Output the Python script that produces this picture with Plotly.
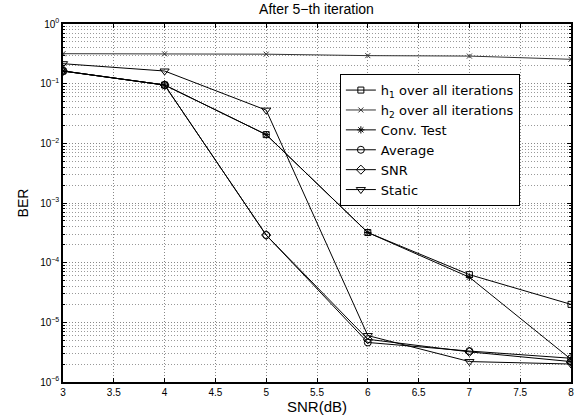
import plotly.graph_objects as go

snr = [3, 4, 5, 6, 7, 8]
h1 = [0.163, 0.095, 0.014, 3.2e-4, 6.3e-5, 2.0e-5]
h2 = [0.318, 0.316, 0.312, 0.295, 0.29, 0.256]
conv = [0.163, 0.095, 0.014, 3.2e-4, 5.7e-5, 2.4e-6]
average = [0.163, 0.095, 2.9e-4, 4.6e-6, 3.3e-6, 2.5e-6]
snr_sel = [0.163, 0.095, 2.9e-4, 5.2e-6, 3.2e-6, 2.2e-6]
static = [0.216, 0.163, 0.036, 6.0e-6, 2.2e-6, 2.0e-6]

series = [
    ("h<sub>1</sub> over all iterations", h1, "square-open", 6, "black"),
    ("h<sub>2</sub> over all iterations", h2, "x-thin-open", 5, "#333333"),
    ("Conv. Test", conv, "asterisk-open", 6, "black"),
    ("Average", average, "circle-open", 7, "black"),
    ("SNR", snr_sel, "diamond-open", 7, "black"),
    ("Static", static, "triangle-down-open", 8, "black"),
]

fig = go.Figure()
for name, ys, sym, sz, col in series:
    fig.add_trace(go.Scatter(
        x=snr, y=ys, name=name, mode="lines+markers",
        line=dict(color=col, width=1),
        marker=dict(symbol=sym, size=sz, color=col, line=dict(color=col, width=1)),
    ))

ytickvals = [1e0, 1e-1, 1e-2, 1e-3, 1e-4, 1e-5, 1e-6]
yticktext = ["10<sup>0</sup>", "10<sup>−1</sup>", "10<sup>−2</sup>", "10<sup>−3</sup>",
             "10<sup>−4</sup>", "10<sup>−5</sup>", "10<sup>−6</sup>"]
xtickvals = [3, 3.5, 4, 4.5, 5, 5.5, 6, 6.5, 7, 7.5, 8]
xticktext = ["3", "3.5", "4", "4.5", "5", "5.5", "6", "6.5", "7", "7.5", "8"]

minor_vals = [m * 10.0 ** e for e in range(-6, 0) for m in range(2, 10)]

grid_style = dict(showgrid=True, gridcolor="#888888", griddash="1px,2px", gridwidth=1)

fig.update_layout(
    width=582, height=418,
    margin=dict(l=63, r=8, t=24, b=36),
    paper_bgcolor="white", plot_bgcolor="white",
    font=dict(family="Liberation Sans, Arial, sans-serif", color="black", size=10),
    title=dict(text="After 5−th iteration", xref="paper", x=0.499, xanchor="center",
               y=0.978, yanchor="middle", font=dict(size=14, color="black")),
    showlegend=True,
    legend=dict(x=0.545, y=0.86, xanchor="left", yanchor="top",
                bgcolor="white", bordercolor="black", borderwidth=1,
                font=dict(family="DejaVu Sans, sans-serif", size=13, color="black"),
                tracegroupgap=0, itemwidth=30),
    xaxis=dict(
        range=[3, 8], tickvals=xtickvals, ticktext=xticktext,
        showline=True, linecolor="black", linewidth=1.5, mirror="ticks",
        ticks="inside", ticklen=4, tickcolor="black",
        zeroline=False, tickfont=dict(size=10),
        title=dict(text="SNR(dB)", font=dict(size=15), standoff=2),
        **grid_style,
    ),
    yaxis=dict(
        type="log", range=[-6, 0], tickvals=ytickvals, ticktext=yticktext,
        showline=True, linecolor="black", linewidth=1.5, mirror="ticks",
        ticks="inside", ticklen=4, tickcolor="black",
        minor=dict(tickmode="array", tickvals=minor_vals, showgrid=True,
                   gridcolor="#999999", griddash="1px,2px", gridwidth=1,
                   ticks="inside", ticklen=2, tickcolor="black"),
        zeroline=False, tickfont=dict(size=10),
        title=dict(text="BER", font=dict(size=14), standoff=8),
        **grid_style,
    ),
)

fig.write_html("out.html", config={"displayModeBar": False},
               post_script="document.body.style.margin='0';document.body.style.overflow='hidden';")
